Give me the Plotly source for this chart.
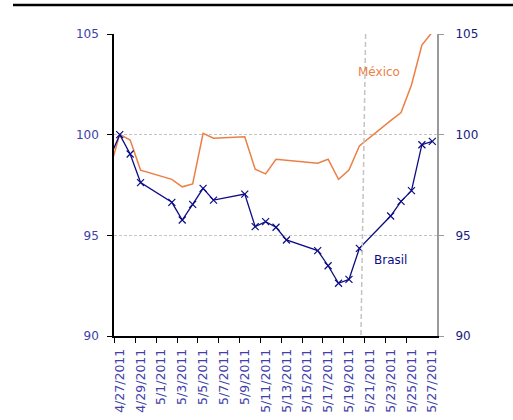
import pandas as pd
import plotly.graph_objects as go

# trading days (4/26 sits just left of the visible range)
dates = ["2011-04-26", "2011-04-27", "2011-04-28", "2011-04-29",
         "2011-05-02", "2011-05-03", "2011-05-04", "2011-05-05", "2011-05-06",
         "2011-05-09", "2011-05-10", "2011-05-11", "2011-05-12", "2011-05-13",
         "2011-05-16", "2011-05-17", "2011-05-18", "2011-05-19", "2011-05-20",
         "2011-05-23", "2011-05-24", "2011-05-25", "2011-05-26", "2011-05-27"]

brasil = [98.8, 100.0, 99.04, 97.62,
          96.64, 95.76, 96.54, 97.33, 96.75,
          97.05, 95.43, 95.68, 95.40, 94.77,
          94.24, 93.49, 92.62, 92.81, 94.35,
          95.96, 96.69, 97.22, 99.50, 99.67]

mexico = [98.2, 100.02, 99.73, 98.24,
          97.78, 97.41, 97.55, 100.07, 99.82,
          99.90, 98.28, 98.05, 98.78, 98.73,
          98.58, 98.78, 97.78, 98.24, 99.44,
          100.70, 101.10, 102.47, 104.45, 105.10]

# x-axis calendar (every day shown, label every 2nd)
axis_start = pd.Timestamp("2011-04-27")
axis_days = pd.date_range("2011-04-27", "2011-05-27", freq="D")
tick_days = axis_days[::2]
tick_labels = [f"{d.month}/{d.day}/{d.year}" for d in tick_days]

x = [(pd.Timestamp(d) - axis_start).days for d in dates]
tickvals = [(d - axis_start).days for d in tick_days]
boundaries = [v - 0.5 for v in tickvals[:-1]]

NAVY = "#0c0c84"
ORANGE = "#ec7f45"
LABEL_BLUE = "#4040a8"
FONT = "DejaVu Sans"

fig = go.Figure()

fig.add_trace(go.Scatter(x=x, y=mexico, mode="lines", name="México",
                         line=dict(color=ORANGE, width=1.5),
                         showlegend=False))
fig.add_trace(go.Scatter(x=x, y=brasil, mode="lines+markers", name="Brasil",
                         line=dict(color=NAVY, width=1.3),
                         marker=dict(symbol="x-thin", size=7,
                                     line=dict(color=NAVY, width=1.2)),
                         showlegend=False))
# invisible trace to carry the right-hand axis
fig.add_trace(go.Scatter(x=[0], y=[95], yaxis="y2", mode="markers",
                         marker=dict(opacity=0), showlegend=False,
                         hoverinfo="skip"))

# dashed marker line
fig.add_shape(type="line", x0=23.6, y0=105, x1=23.15, y1=90,
              xref="x", yref="y",
              line=dict(color="#c4c4c4", width=1.5, dash="5px,3px"))

# rule across the top of the page (pixels relative to the plot's top-left)
fig.add_shape(type="line", x0=-101, x1=399, y0=29, y1=29,
              xref="paper", yref="paper", xsizemode="pixel", ysizemode="pixel",
              xanchor=0, yanchor=1, line=dict(color="black", width=2.5))

fig.add_annotation(x=22.7, y=103.1, xref="x", yref="y", text="México",
                   showarrow=False, xanchor="left",
                   font=dict(color=ORANGE, size=12, family=FONT))
fig.add_annotation(x=24.2, y=93.77, xref="x", yref="y", text="Brasil",
                   showarrow=False, xanchor="left",
                   font=dict(color=NAVY, size=12, family=FONT))

fig.update_xaxes(range=[-0.55, 30.45], tickvals=tickvals, ticktext=tick_labels,
                 tickangle=-90, ticks="", showgrid=False, zeroline=False,
                 showline=True, linecolor="black", linewidth=1.5,
                 ticklabelstandoff=6, automargin=False,
                 tickfont=dict(color=LABEL_BLUE, size=12.5, family=FONT),
                 minor=dict(tickvals=boundaries, ticks="outside", ticklen=5,
                            tickcolor="black", tickwidth=1, showgrid=False))

fig.update_layout(
    width=513, height=420,
    margin=dict(l=114, r=76, t=34, b=84),
    paper_bgcolor="white", plot_bgcolor="white",
    font=dict(family=FONT, size=12),
    yaxis=dict(range=[90, 105], dtick=5, showgrid=True, automargin=False,
               gridcolor="#c4c4c4", griddash="3px,2px", gridwidth=1,
               zeroline=False, showline=True, linecolor="black", linewidth=1.5,
               ticks="outside", ticklen=5, tickcolor="black",
               ticklabelstandoff=6,
               tickfont=dict(color=LABEL_BLUE, size=12, family=FONT)),
    yaxis2=dict(range=[90, 105], dtick=5, overlaying="y", side="right",
                showgrid=False, zeroline=False, showline=True, automargin=False,
                linecolor="#9a9a9a", linewidth=2, ticks="outside", ticklen=5,
                tickcolor="#9a9a9a", ticklabelstandoff=9,
                tickfont=dict(color="#1a1a80", size=12, family=FONT)),
)

# page body has an 8px default margin; drop it so the figure sits at (0, 0)
fig.write_html("out.html", config={"displayModeBar": False},
               post_script="document.body.style.margin='0';")
